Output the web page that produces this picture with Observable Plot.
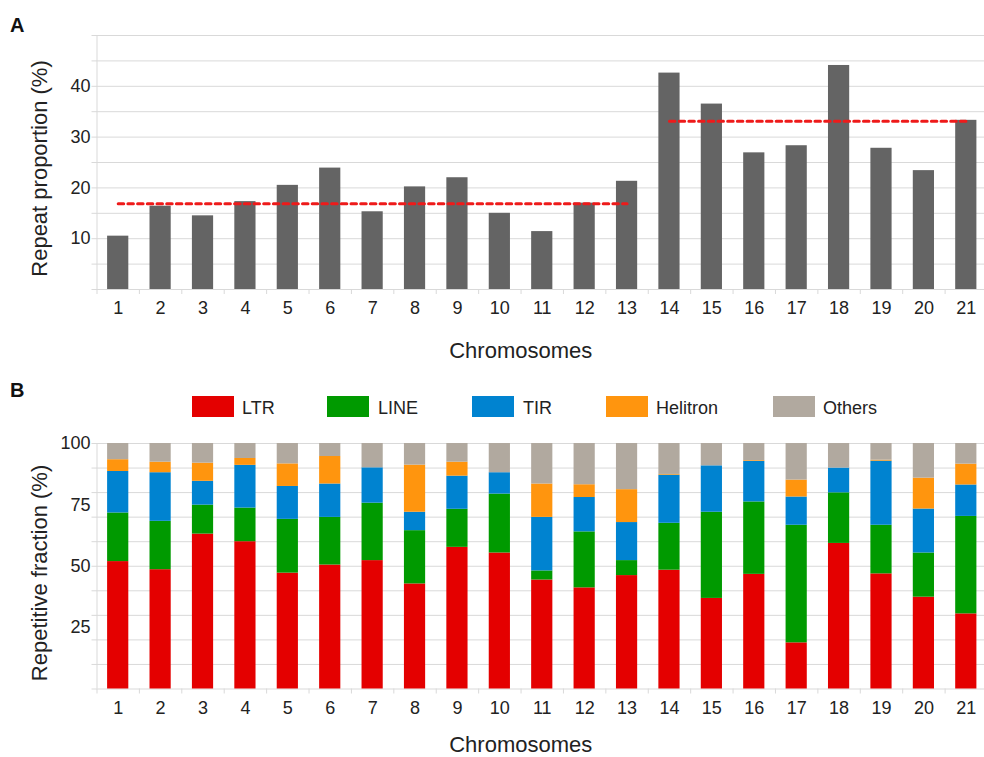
<!DOCTYPE html>
<html>
<head>
<meta charset="utf-8">
<script src="https://cdn.jsdelivr.net/npm/d3@7"></script>
<script src="https://cdn.jsdelivr.net/npm/@observablehq/plot@0.6"></script>
<style>
html, body { margin: 0; padding: 0; background: #fff; overflow: hidden; }
#root { position: relative; width: 984px; height: 757px; overflow: hidden; font-family: "Liberation Sans", Arial, sans-serif; color: #222; background: #fff; }
.panel { position: absolute; left: 10px; font-weight: bold; font-size: 20px; line-height: 20px; color: #111; }
.chart { position: absolute; left: 0; }
.sw { position: absolute; top: 396px; width: 42px; height: 21px; }
.lab { position: absolute; top: 398px; font-size: 18px; line-height: 21px; color: #222; white-space: nowrap; }
</style>
</head>
<body>
<div id="root"></div>
<script>
// ---------- Data ----------
const chromosomes = ["1","2","3","4","5","6","7","8","9","10","11","12","13","14","15","16","17","18","19","20","21"];

// Panel A: repeat proportion (%) per chromosome
const repeatProportion = [10.5, 16.4, 14.5, 17.3, 20.5, 23.9, 15.3, 20.2, 22.0, 15.0, 11.4, 17.0, 21.3, 42.6, 36.5, 26.9, 28.3, 44.1, 27.8, 23.4, 33.3];
// Group means (dashed red lines)
const groupStart = ["1", "14"];
const groupEnd = ["13", "21"];
const groupMean = [16.9, 33.1];
const panelAGridValues = [0, 5, 10, 15, 20, 25, 30, 35, 40, 45, 50];
const panelATickLabels = [10, 20, 30, 40];

// Panel B: repetitive fraction (%) per element type
const categories = ["LTR", "LINE", "TIR", "Helitron", "Others"];
const categoryColors = ["#e40000", "#009a00", "#0083d0", "#ff950e", "#b1a99f"];
const ltr      = [51.9, 48.6, 63.1, 60.0, 47.2, 50.5, 52.3, 42.8, 57.7, 55.4, 44.4, 41.2, 46.2, 48.4, 36.9, 46.7, 18.8, 59.3, 46.9, 37.4, 30.6];
const lineEl   = [19.8, 19.7, 11.8, 13.7, 21.9, 19.4, 23.4, 21.7, 15.5, 24.0, 3.7, 22.8, 6.1, 19.1, 35.1, 29.5, 47.9, 20.6, 19.8, 18.0, 39.7];
const tir      = [16.9, 19.8, 9.7, 17.4, 13.4, 13.6, 14.4, 7.5, 13.5, 8.7, 21.8, 14.0, 15.5, 19.6, 18.9, 16.5, 11.5, 10.1, 26.1, 17.9, 12.8];
const helitron = [4.8, 4.3, 7.4, 2.8, 9.2, 11.2, 0, 19.2, 5.7, 0, 13.6, 5.2, 13.4, 0.3, 0, 0.3, 6.9, 0, 0.4, 12.6, 8.5];
const others   = [6.6, 7.6, 8.0, 6.1, 8.3, 5.3, 9.9, 8.8, 7.6, 11.9, 16.5, 16.8, 18.8, 12.6, 9.1, 7.0, 14.9, 10.0, 6.8, 14.1, 8.4];
const panelBGridValues = [0, 10, 20, 30, 40, 50, 60, 70, 80, 90, 100];
const panelBTickLabels = [25, 50, 75, 100];

const xTitle = "Chromosomes";
const yTitleA = "Repeat proportion (%)";
const yTitleB = "Repetitive fraction (%)";

// ---------- Tables ----------
const dataA = chromosomes.map((c, i) => ({chrom: c, value: repeatProportion[i]}));
const meanLines = [];
groupMean.forEach((m, g) => {
  meanLines.push({chrom: groupStart[g], value: m, group: g});
  meanLines.push({chrom: groupEnd[g], value: m, group: g});
});
const seriesB = [ltr, lineEl, tir, helitron, others];
const dataB = [];
chromosomes.forEach((c, i) => {
  categories.forEach((t, k) => dataB.push({chrom: c, type: t, value: seriesB[k][i]}));
});

// ---------- Layout ----------
const W = 987;
const ML = 96.5, MR = 0;
const step = (W - ML - MR) / chromosomes.length;
const FONT = "Liberation Sans, Arial, sans-serif";
const GRID = "#d9d9d9";
const style = {fontFamily: FONT, fontSize: "18px", color: "#222", background: "transparent", overflow: "visible"};
const xScale = {domain: chromosomes, paddingInner: 0.5, paddingOuter: 0.25, round: false, label: null};

function boundaryTicks() {
  return [
    Plot.ruleX(chromosomes, {x: d => d, y1: 0, y2: 0, insetTop: 0, insetBottom: -5, dx: -step / 2, stroke: GRID}),
    Plot.ruleX([chromosomes[chromosomes.length - 1]], {x: d => d, y1: 0, y2: 0, insetTop: 0, insetBottom: -5, dx: step / 2, stroke: GRID}),
    Plot.ruleX([chromosomes[0]], {x: d => d, dx: -step / 2, stroke: GRID})
  ];
}

const plotA = Plot.plot({
  width: W, height: 370,
  marginTop: 35, marginBottom: 81, marginLeft: ML, marginRight: MR,
  style,
  x: xScale,
  y: {domain: [0, 50], label: null},
  marks: [
    Plot.ruleY(panelAGridValues, {y: d => d, stroke: GRID, insetLeft: -5}),
    ...boundaryTicks(),
    Plot.barY(dataA, {x: "chrom", y: "value", fill: "#646464"}),
    Plot.lineY(meanLines, {x: "chrom", y: "value", z: "group", stroke: "#ee1a1a", strokeWidth: 3, strokeDasharray: "5.5,4.2"}),
    Plot.axisX({tickSize: 0, tickPadding: 12, label: null, fontSize: 18}),
    Plot.axisY(panelATickLabels, {tickSize: 0, tickPadding: 6.5, label: null, fontSize: 18}),
    Plot.text([xTitle], {frameAnchor: "bottom", textAnchor: "middle", lineAnchor: "top", dy: 52.7, dx: -21.5, fontSize: 22, fill: "#222"}),
    Plot.text([yTitleA], {frameAnchor: "left", textAnchor: "middle", rotate: -90, lineAnchor: "top", dx: -65.5, dy: 6, fontSize: 22, fill: "#222"})
  ]
});

const plotB = Plot.plot({
  width: W, height: 327,
  marginTop: 13, marginBottom: 68.5, marginLeft: ML, marginRight: MR,
  style,
  x: xScale,
  y: {domain: [0, 100], label: null},
  color: {domain: categories, range: categoryColors},
  marks: [
    Plot.ruleY(panelBGridValues, {y: d => d, stroke: GRID, insetLeft: -5}),
    ...boundaryTicks(),
    Plot.barY(dataB, {x: "chrom", y: "value", fill: "type"}),
    Plot.axisX({tickSize: 0, tickPadding: 12, label: null, fontSize: 18}),
    Plot.axisY(panelBTickLabels, {tickSize: 0, tickPadding: 6.5, label: null, fontSize: 18}),
    Plot.text([xTitle], {frameAnchor: "bottom", textAnchor: "middle", lineAnchor: "top", dy: 47.5, dx: -21.5, fontSize: 22, fill: "#222"}),
    Plot.text([yTitleB], {frameAnchor: "left", textAnchor: "middle", rotate: -90, lineAnchor: "top", dx: -65.5, dy: 6.7, fontSize: 22, fill: "#222"})
  ]
});

// ---------- Assemble ----------
const root = document.getElementById("root");
plotA.classList.add("chart"); plotA.style.top = "0px";
plotB.classList.add("chart"); plotB.style.top = "430px";
plotA.style.maxWidth = "none"; plotB.style.maxWidth = "none";
root.appendChild(plotA);
root.appendChild(plotB);

function addDiv(cls, text, css) {
  const d = document.createElement("div");
  d.className = cls;
  if (text) d.textContent = text;
  Object.assign(d.style, css);
  root.appendChild(d);
}
addDiv("panel", "A", {top: "15px"});
addDiv("panel", "B", {top: "380px"});

const swatchX = [192, 327, 472, 606, 773];
const labelX = [242, 378, 523, 656, 823];
categories.forEach((c, k) => {
  addDiv("sw", "", {left: swatchX[k] + "px", background: categoryColors[k]});
  addDiv("lab", c, {left: labelX[k] + "px"});
});
</script>
</body>
</html>
